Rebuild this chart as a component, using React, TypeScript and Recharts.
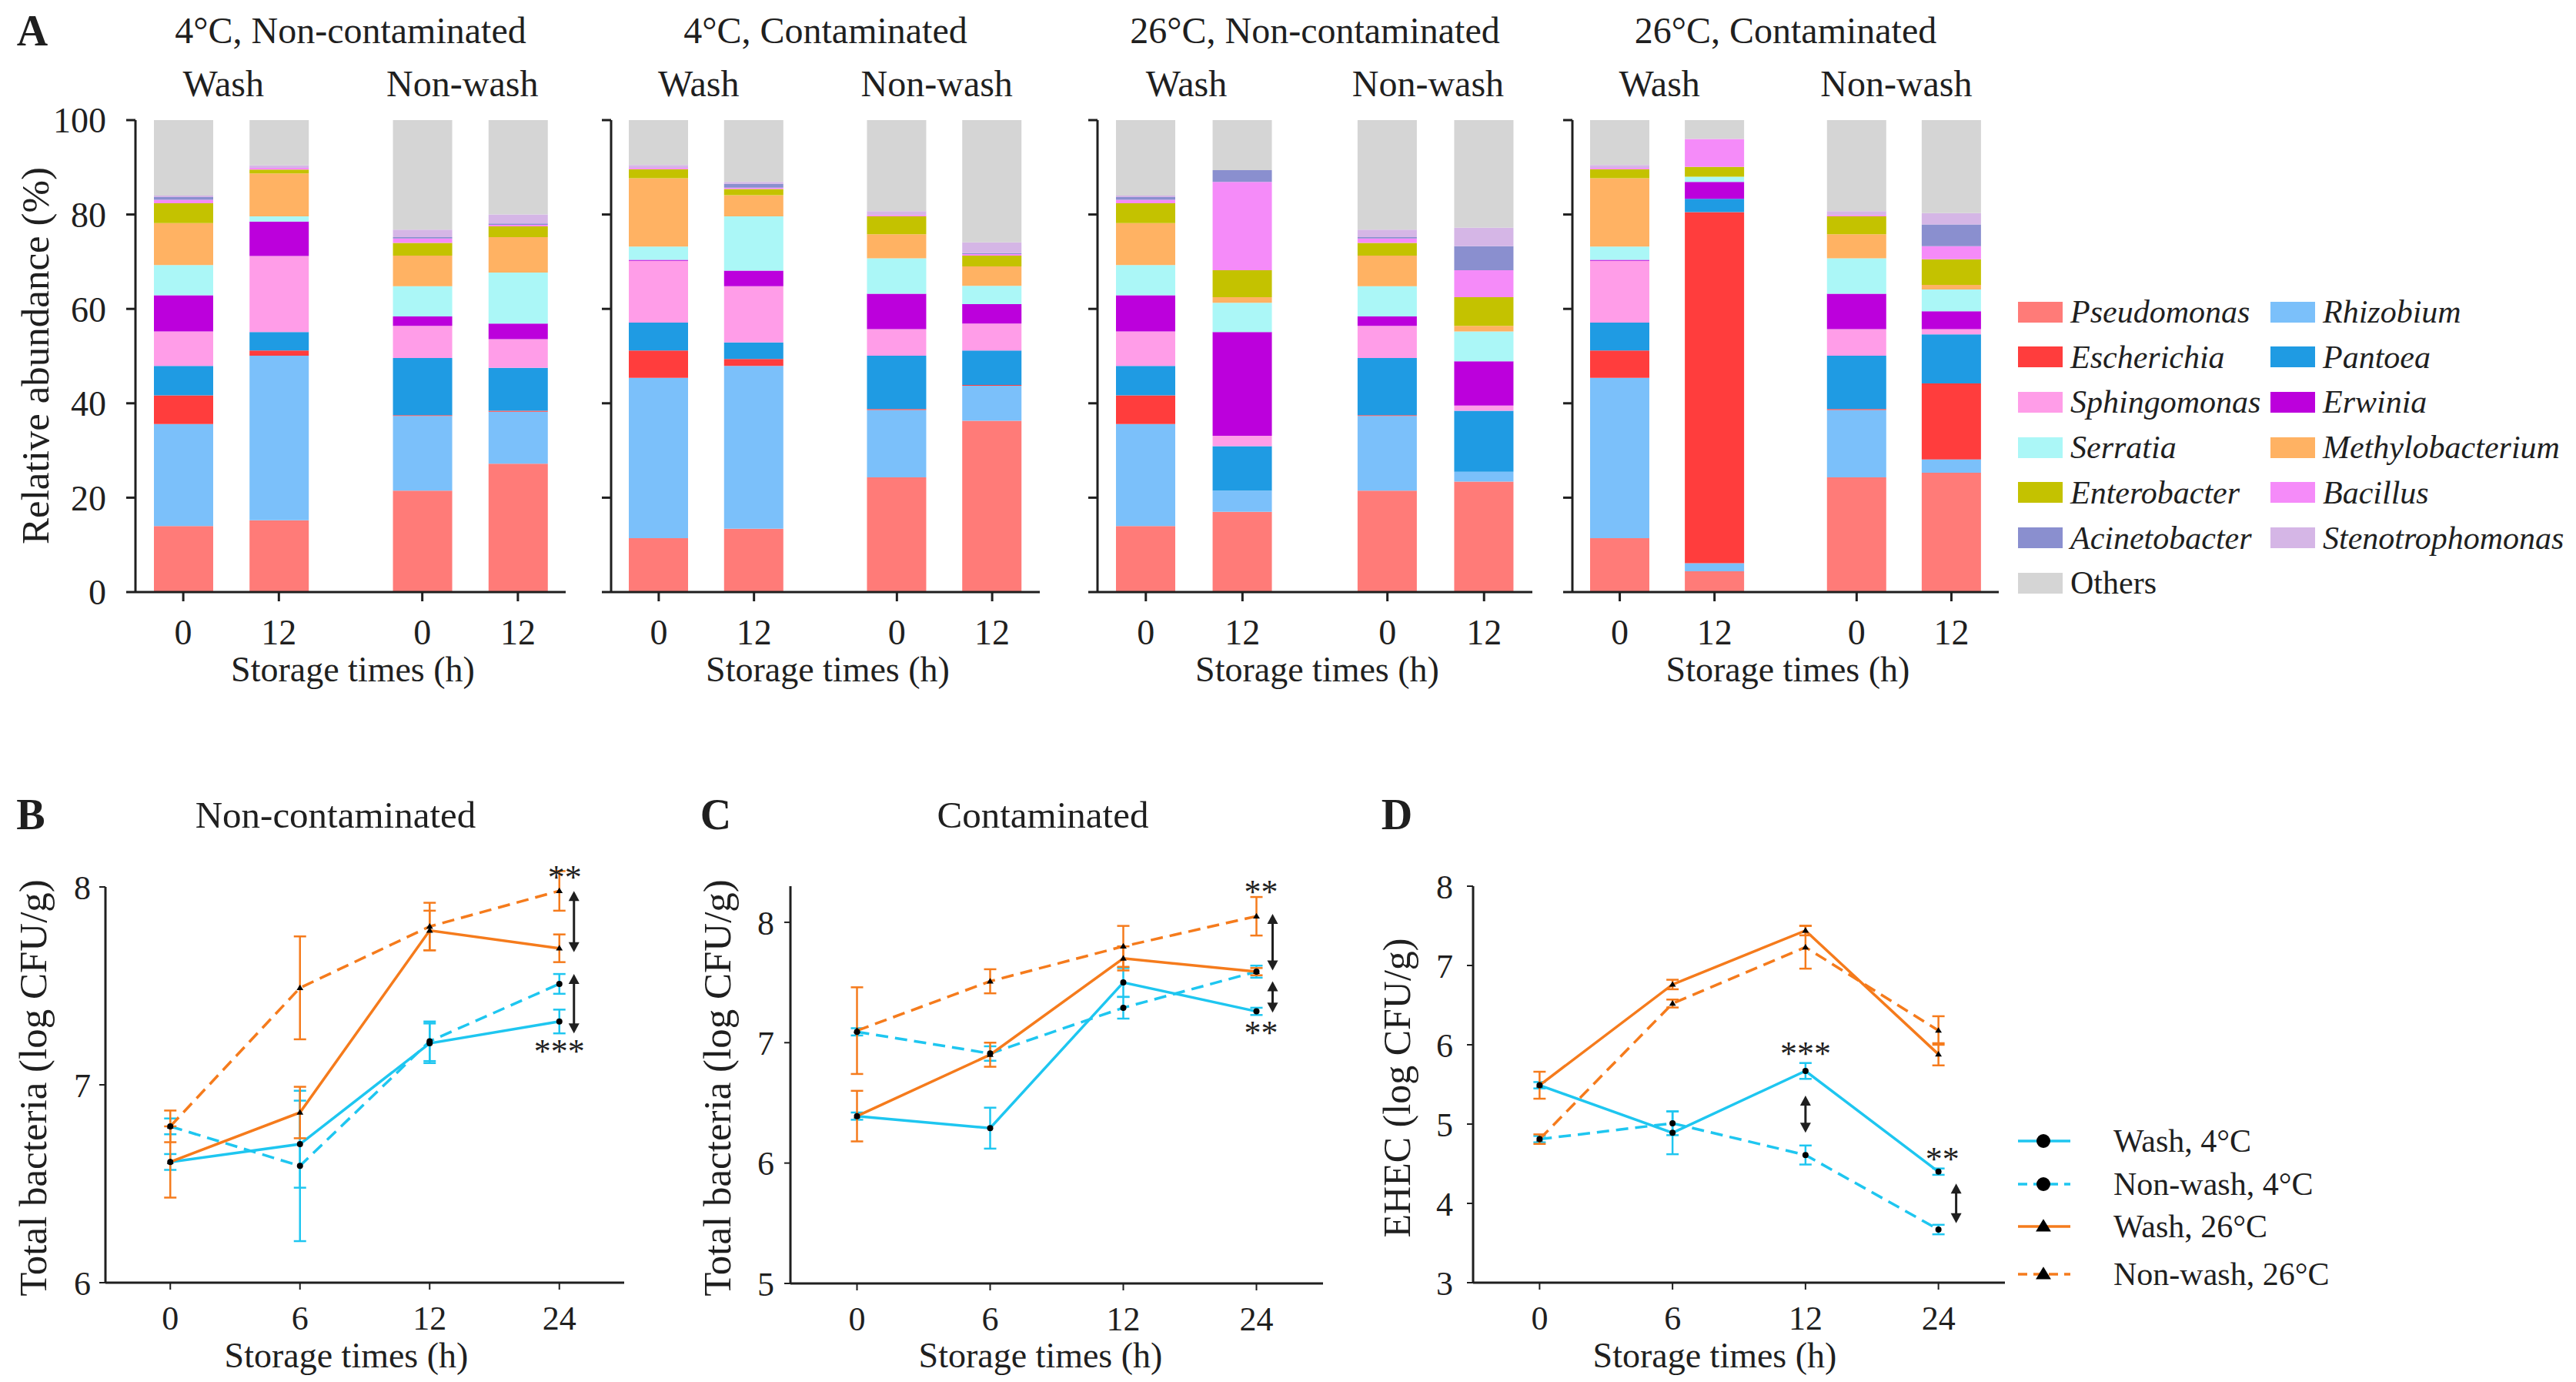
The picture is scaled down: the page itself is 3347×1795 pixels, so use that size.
import React from "react";
import {
  Bar,
  BarChart,
  ErrorBar,
  Line,
  LineChart,
  ReferenceDot,
  ReferenceLine,
  XAxis,
  YAxis,
} from "recharts";

const FONT = '"Liberation Serif", "Times New Roman", serif';
const INK = "#1f1f1f";
const CYAN = "#1ec6f0";
const ORANGE = "#f57b1c";

// genera in stacking order, bottom first (legend reads the same way, row by row)
const genera = [
  "Pseudomonas", "Rhizobium", "Escherichia", "Pantoea", "Sphingomonas", "Erwinia",
  "Serratia", "Methylobacterium", "Enterobacter", "Bacillus", "Acinetobacter",
  "Stenotrophomonas", "Others",
];
const generaColors = [
  "#ff7b78", "#7bc0fa", "#ff3d3d", "#1f9be3", "#ff9de8", "#bc00dc",
  "#abf7f7", "#ffb263", "#c4c200", "#f58bf9", "#8a8fcf", "#d5b6e6", "#d5d5d5",
];

// relative abundance (%), same order as genera
const washStartClean = [14.0, 21.6, 6.1, 6.2, 7.3, 7.7, 6.4, 8.9, 4.2, 0.7, 0.6, 0.3, 16.0];
const nonwashStartClean = [21.5, 15.8, 0.2, 12.1, 6.8, 2.0, 6.4, 6.5, 2.7, 0.9, 0.3, 1.6, 23.2];
const washStartCont = [11.4, 34.0, 5.8, 5.9, 13.1, 0.2, 2.8, 14.5, 1.9, 0.3, 0.0, 0.6, 9.5];
const nonwashStartCont = [24.3, 14.3, 0.2, 11.3, 5.6, 7.5, 7.5, 5.1, 3.8, 0.3, 0.0, 0.8, 19.3];

const wash12Clean4 = [15.2, 34.9, 1.1, 3.9, 16.1, 7.3, 1.1, 9.1, 0.8, 0.4, 0.0, 0.5, 9.6];
const nonwash12Clean4 = [27.2, 11.0, 0.2, 9.1, 6.1, 3.3, 10.8, 7.5, 2.3, 0.3, 0.3, 1.9, 20.0];
const wash12Cont4 = [13.4, 34.5, 1.5, 3.5, 11.9, 3.3, 11.5, 4.5, 1.3, 0.3, 0.8, 0.4, 13.1];
const nonwash12Cont4 = [36.3, 7.4, 0.2, 7.3, 5.7, 4.1, 3.9, 4.1, 2.3, 0.3, 0.2, 2.3, 25.9];
const wash12Clean26 = [17.0, 4.5, 0.0, 9.4, 2.2, 22.0, 6.2, 1.2, 5.7, 18.7, 2.5, 0.0, 10.6];
const nonwash12Clean26 = [23.4, 2.1, 0.0, 12.9, 1.1, 9.4, 6.3, 1.2, 6.1, 5.7, 5.1, 3.9, 22.8];
const wash12Cont26 = [4.4, 1.7, 74.4, 2.8, 0.0, 3.6, 1.1, 0.0, 2.1, 5.9, 0.0, 0.0, 4.0];
const nonwash12Cont26 = [25.3, 2.8, 16.1, 10.4, 1.1, 3.8, 4.6, 1.0, 5.4, 2.8, 4.6, 2.4, 19.7];

const barTimes = ["0", "12", "0", "12"];

// log CFU/g over storage time, mean and sd
const hours = ["0", "6", "12", "24"];

const bWash4 = [6.61, 6.7, 7.21, 7.32];
const bWash4Sd = [0.04, 0.22, 0.1, 0.06];
const bNon4 = [6.79, 6.59, 7.22, 7.51];
const bNon4Sd = [0.04, 0.38, 0.1, 0.05];
const bWash26 = [6.61, 6.86, 7.78, 7.69];
const bWash26Sd = [0.18, 0.13, 0.1, 0.07];
const bNon26 = [6.79, 7.49, 7.8, 7.98];
const bNon26Sd = [0.08, 0.26, 0.12, 0.1];

const cWash4 = [6.39, 6.29, 7.5, 7.26];
const cWash4Sd = [0.03, 0.17, 0.12, 0.03];
const cNon4 = [7.09, 6.91, 7.29, 7.59];
const cNon4Sd = [0.03, 0.06, 0.09, 0.05];
const cWash26 = [6.39, 6.9, 7.7, 7.59];
const cWash26Sd = [0.21, 0.1, 0.1, 0.03];
const cNon26 = [7.1, 7.51, 7.8, 8.05];
const cNon26Sd = [0.36, 0.1, 0.17, 0.16];

const dWash4 = [5.49, 4.89, 5.67, 4.4];
const dWash4Sd = [0.04, 0.27, 0.1, 0.04];
const dNon4 = [4.81, 5.01, 4.61, 3.67];
const dNon4Sd = [0.04, 0.15, 0.12, 0.06];
const dWash26 = [5.49, 6.76, 7.44, 5.88];
const dWash26Sd = [0.17, 0.06, 0.06, 0.14];
const dNon26 = [4.81, 6.52, 7.23, 6.18];
const dNon26Sd = [0.06, 0.05, 0.27, 0.18];

const seriesNames = ["Wash, 4°C", "Non-wash, 4°C", "Wash, 26°C", "Non-wash, 26°C"];
const seriesColors = [CYAN, CYAN, ORANGE, ORANGE];
const seriesDashed = [false, true, false, true];
const seriesMarkers = ["circle", "circle", "triangle", "triangle"];

// significance marks (value coordinates) and their sideways nudge
const bArrows = [
  { at: "24", from: 7.98, to: 7.67, dx: 19 },
  { at: "24", from: 7.56, to: 7.26, dx: 19 },
];
const bStars = [
  { at: "24", y: 8.07, text: "**", dx: 7 },
  { at: "24", y: 7.19, text: "***", dx: 0 },
];
const cArrows = [
  { at: "24", from: 8.07, to: 7.6, dx: 21 },
  { at: "24", from: 7.51, to: 7.25, dx: 21 },
];
const cStars = [
  { at: "24", y: 8.29, text: "**", dx: 6 },
  { at: "24", y: 7.12, text: "**", dx: 6 },
];
const dArrows = [
  { at: "12", from: 5.36, to: 4.89, dx: 0 },
  { at: "24", from: 4.25, to: 3.75, dx: 23 },
];
const dStars = [
  { at: "12", y: 5.94, text: "***", dx: 0 },
  { at: "24", y: 4.61, text: "**", dx: 5 },
];

// ---------- layout ----------
const BAR_SLOTS = [0, 1, 2.5, 3.5];
const abundancePanels = [
  { title: "4°C, Non-contaminated", bars: [washStartClean, wash12Clean4, nonwashStartClean, nonwash12Clean4], axisX: 176, plotW: 559 },
  { title: "4°C, Contaminated", bars: [washStartCont, wash12Cont4, nonwashStartCont, nonwash12Cont4], axisX: 794, plotW: 557 },
  { title: "26°C, Non-contaminated", bars: [washStartClean, wash12Clean26, nonwashStartClean, nonwash12Clean26], axisX: 1426, plotW: 565 },
  { title: "26°C, Contaminated", bars: [washStartCont, wash12Cont26, nonwashStartCont, nonwash12Cont26], axisX: 2043, plotW: 554 },
];

const growthPanels = [
  {
    letter: "B", title: "Non-contaminated", yLabel: "Total bacteria (log CFU/g)", yLabelSize: 51,
    series: [[bWash4, bWash4Sd], [bNon4, bNon4Sd], [bWash26, bWash26Sd], [bNon26, bNon26Sd]],
    arrows: bArrows, stars: bStars,
    domain: [6, 8], ticks: [6, 7, 8],
    left: 0, axisX: 137, plotRight: 811, plotTop: 1152, plotBottom: 1666, yTickGap: 11,
    letterX: 40, titleX: 436, yLabelX: 43, xLabelX: 450,
  },
  {
    letter: "C", title: "Contaminated", yLabel: "Total bacteria (log CFU/g)", yLabelSize: 51,
    series: [[cWash4, cWash4Sd], [cNon4, cNon4Sd], [cWash26, cWash26Sd], [cNon26, cNon26Sd]],
    arrows: cArrows, stars: cStars,
    domain: [5, 8.3], ticks: [5, 6, 7, 8],
    left: 880, axisX: 1027, plotRight: 1719, plotTop: 1151, plotBottom: 1667, yTickGap: 13,
    letterX: 930, titleX: 1355, yLabelX: 932, xLabelX: 1352,
  },
  {
    letter: "D", title: "", yLabel: "EHEC (log CFU/g)", yLabelSize: 50,
    series: [[dWash4, dWash4Sd], [dNon4, dNon4Sd], [dWash26, dWash26Sd], [dNon26, dNon26Sd]],
    arrows: dArrows, stars: dStars,
    domain: [3, 8], ticks: [3, 4, 5, 6, 7, 8],
    left: 1760, axisX: 1914, plotRight: 2605, plotTop: 1151, plotBottom: 1666, yTickGap: 18,
    letterX: 1815, titleX: 0, yLabelX: 1815, xLabelX: 2228,
  },
];

function Txt({ x, y, children, size = 46, rotate = false, bold = false, italic = false }: any) {
  return (
    <div
      style={{
        position: "absolute",
        left: x,
        top: y,
        transform: `translate(-50%, -50%)${rotate ? " rotate(-90deg)" : ""}`,
        fontFamily: FONT,
        fontSize: size,
        fontWeight: bold ? 700 : 400,
        fontStyle: italic ? "italic" : "normal",
        color: INK,
        whiteSpace: "nowrap",
        lineHeight: 1,
      }}
    >
      {children}
    </div>
  );
}

function AbundancePanel({ p, first }: any) {
  const rows = p.bars.map((vals: number[], i: number) => {
    const r: Record<string, number> = { slot: BAR_SLOTS[i] };
    genera.forEach((g, j) => (r[g] = vals[j]));
    return r;
  });
  const yW = 150;
  const slotX = (s: number) => p.axisX + ((s + 0.5) / 4.5) * p.plotW;
  const center = p.axisX + p.plotW / 2;
  return (
    <>
      <div style={{ position: "absolute", left: p.axisX - yW, top: 0 }}>
        <BarChart width={yW + p.plotW + 10} height={900} data={rows} margin={{ top: 156, right: 10, bottom: 0, left: 0 }}>
          <XAxis
            type="number"
            dataKey="slot"
            domain={[-0.5, 4]}
            ticks={BAR_SLOTS}
            interval={0}
            allowDataOverflow
            tickFormatter={(v: number) => barTimes[BAR_SLOTS.indexOf(v)]}
            height={131}
            tickSize={12}
            tickMargin={23}
            axisLine={{ stroke: INK, strokeWidth: 3 }}
            tickLine={{ stroke: INK, strokeWidth: 3 }}
            tick={{ fill: INK, fontSize: 46, fontFamily: FONT }}
          />
          <YAxis
            type="number"
            domain={[0, 100]}
            ticks={[0, 20, 40, 60, 80, 100]}
            interval={0}
            width={yW}
            tickSize={12}
            tickMargin={26}
            tickFormatter={first ? undefined : () => ""}
            axisLine={{ stroke: INK, strokeWidth: 3 }}
            tickLine={{ stroke: INK, strokeWidth: 3 }}
            tick={{ fill: INK, fontSize: 46, fontFamily: FONT }}
          />
          {genera.map((g, i) => (
            <Bar key={g} dataKey={g} stackId="a" fill={generaColors[i]} barSize={77} isAnimationActive={false} />
          ))}
        </BarChart>
      </div>
      <Txt x={center} y={40} size={48}>{p.title}</Txt>
      <Txt x={slotX(0.5) - 10} y={109} size={48}>Wash</Txt>
      <Txt x={slotX(3) - 10} y={109} size={48}>Non-wash</Txt>
      <Txt x={center + 3} y={870} size={46}>Storage times (h)</Txt>
    </>
  );
}

function Marker({ cx, cy, kind, size }: any) {
  if (cx == null || cy == null) return <g />;
  if (kind === "triangle") {
    const h = size * 1.8;
    const w = size * 1.1;
    return <path d={`M${cx},${cy - h * 0.6} L${cx - w},${cy + h * 0.4} L${cx + w},${cy + h * 0.4} Z`} fill="#000" />;
  }
  return <circle cx={cx} cy={cy} r={size} fill="#000" />;
}

function arrowShape(dx: number) {
  return (p: any) => {
    const x = p.x1 + dx;
    const top = Math.min(p.y1, p.y2);
    const bot = Math.max(p.y1, p.y2);
    const h = 13;
    const w = 7;
    return (
      <g>
        <line x1={x} y1={top + h - 2} x2={x} y2={bot - h + 2} stroke={INK} strokeWidth={3} />
        <path d={`M${x},${top} L${x - w},${top + h} L${x + w},${top + h} Z`} fill={INK} />
        <path d={`M${x},${bot} L${x - w},${bot - h} L${x + w},${bot - h} Z`} fill={INK} />
      </g>
    );
  };
}

function GrowthPanel({ g }: any) {
  const rows = hours.map((h, i) => {
    const r: Record<string, any> = { h };
    g.series.forEach(([v, e]: number[][], k: number) => {
      r["s" + k] = v[i];
      r["e" + k] = e[i];
    });
    return r;
  });
  const top = 1000;
  const height = 795;
  const width = g.plotRight - g.left + 40;
  const yW = g.axisX - g.left;
  const plotW = g.plotRight - g.axisX;
  const pad = plotW / 8;
  return (
    <>
      <div style={{ position: "absolute", left: g.left, top }}>
        <LineChart
          width={width}
          height={height}
          data={rows}
          margin={{ top: g.plotTop - top, right: 40, bottom: 0, left: 0 }}
        >
          <XAxis
            dataKey="h"
            type="category"
            padding={{ left: pad, right: pad }}
            interval={0}
            height={height - (g.plotBottom - top)}
            tickSize={9}
            tickMargin={21}
            axisLine={{ stroke: INK, strokeWidth: 3 }}
            tickLine={{ stroke: INK, strokeWidth: 2 }}
            tick={{ fill: INK, fontSize: 44, fontFamily: FONT }}
          />
          <YAxis
            type="number"
            domain={g.domain}
            ticks={g.ticks}
            interval={0}
            allowDataOverflow
            width={yW}
            tickSize={8}
            tickMargin={g.yTickGap}
            axisLine={{ stroke: INK, strokeWidth: 3 }}
            tickLine={{ stroke: INK, strokeWidth: 2 }}
            tick={{ fill: INK, fontSize: 44, fontFamily: FONT }}
          />
          {seriesNames.map((name, k) => (
            <Line
              key={name}
              dataKey={"s" + k}
              name={name}
              stroke={seriesColors[k]}
              strokeWidth={3.5}
              strokeDasharray={seriesDashed[k] ? "16 9" : undefined}
              dot={(d: any) => <Marker key={name + d.index} cx={d.cx} cy={d.cy} kind={seriesMarkers[k]} size={4} />}
              activeDot={false}
              isAnimationActive={false}
            >
              <ErrorBar dataKey={"e" + k} width={8} strokeWidth={2.5} stroke={seriesColors[k]} direction="y" />
            </Line>
          ))}
          {g.arrows.map((a: any, i: number) => (
            <ReferenceLine
              key={"a" + i}
              segment={[{ x: a.at, y: a.from }, { x: a.at, y: a.to }]}
              ifOverflow="visible"
              shape={arrowShape(a.dx)}
            />
          ))}
          {g.stars.map((s: any, i: number) => (
            <ReferenceDot
              key={"s" + i}
              x={s.at}
              y={s.y}
              ifOverflow="visible"
              shape={(p: any) => (
                <text x={p.cx + s.dx} y={p.cy + 20} textAnchor="middle" fontFamily={FONT} fontSize={44} fill={INK}>
                  {s.text}
                </text>
              )}
            />
          ))}
        </LineChart>
      </div>
      <Txt x={g.letterX} y={1058} size={56} bold>{g.letter}</Txt>
      {g.title ? <Txt x={g.titleX} y={1058} size={49}>{g.title}</Txt> : null}
      <Txt x={g.yLabelX} y={1413} size={g.yLabelSize} rotate>{g.yLabel}</Txt>
      <Txt x={g.xLabelX} y={1761} size={46}>Storage times (h)</Txt>
    </>
  );
}

function GeneraLegend() {
  return (
    <>
      {genera.map((name, i) => {
        const col = i % 2;
        const row = Math.floor(i / 2);
        const left = col === 0 ? 2622 : 2950;
        const cy = 405 + row * 58.7;
        return (
          <div key={name} style={{ position: "absolute", left, top: cy - 14, display: "flex", alignItems: "center", height: 28 }}>
            <div style={{ width: 58, height: 27, background: generaColors[i] }} />
            <span
              style={{
                marginLeft: 10,
                fontFamily: FONT,
                fontSize: 42,
                fontStyle: name === "Others" ? "normal" : "italic",
                color: INK,
                whiteSpace: "nowrap",
                lineHeight: 1,
              }}
            >
              {name}
            </span>
          </div>
        );
      })}
    </>
  );
}

function SeriesLegend() {
  const ys = [1482, 1538, 1593, 1655];
  return (
    <>
      {seriesNames.map((name, k) => (
        <div key={name} style={{ position: "absolute", left: 2620, top: ys[k] - 20, height: 40, display: "flex", alignItems: "center" }}>
          <svg width={72} height={40}>
            <line
              x1={2}
              y1={20}
              x2={70}
              y2={20}
              stroke={seriesColors[k]}
              strokeWidth={3.5}
              strokeDasharray={seriesDashed[k] ? "12 8" : undefined}
            />
            <Marker cx={35} cy={20} kind={seriesMarkers[k]} size={9} />
          </svg>
          <span style={{ marginLeft: 54, fontFamily: FONT, fontSize: 42, color: INK, whiteSpace: "nowrap", lineHeight: 1 }}>
            {name}
          </span>
        </div>
      ))}
    </>
  );
}

export default function App() {
  return (
    <div style={{ position: "absolute", left: 0, top: 0, width: 3347, height: 1795, background: "#fff", overflow: "hidden" }}>
      <Txt x={42} y={40} size={56} bold>A</Txt>
      <Txt x={46} y={462} size={51} rotate>Relative abundance (%)</Txt>
      {abundancePanels.map((p, i) => (
        <AbundancePanel key={p.title} p={p} first={i === 0} />
      ))}
      <GeneraLegend />
      {growthPanels.map((g) => (
        <GrowthPanel key={g.letter} g={g} />
      ))}
      <SeriesLegend />
    </div>
  );
}
